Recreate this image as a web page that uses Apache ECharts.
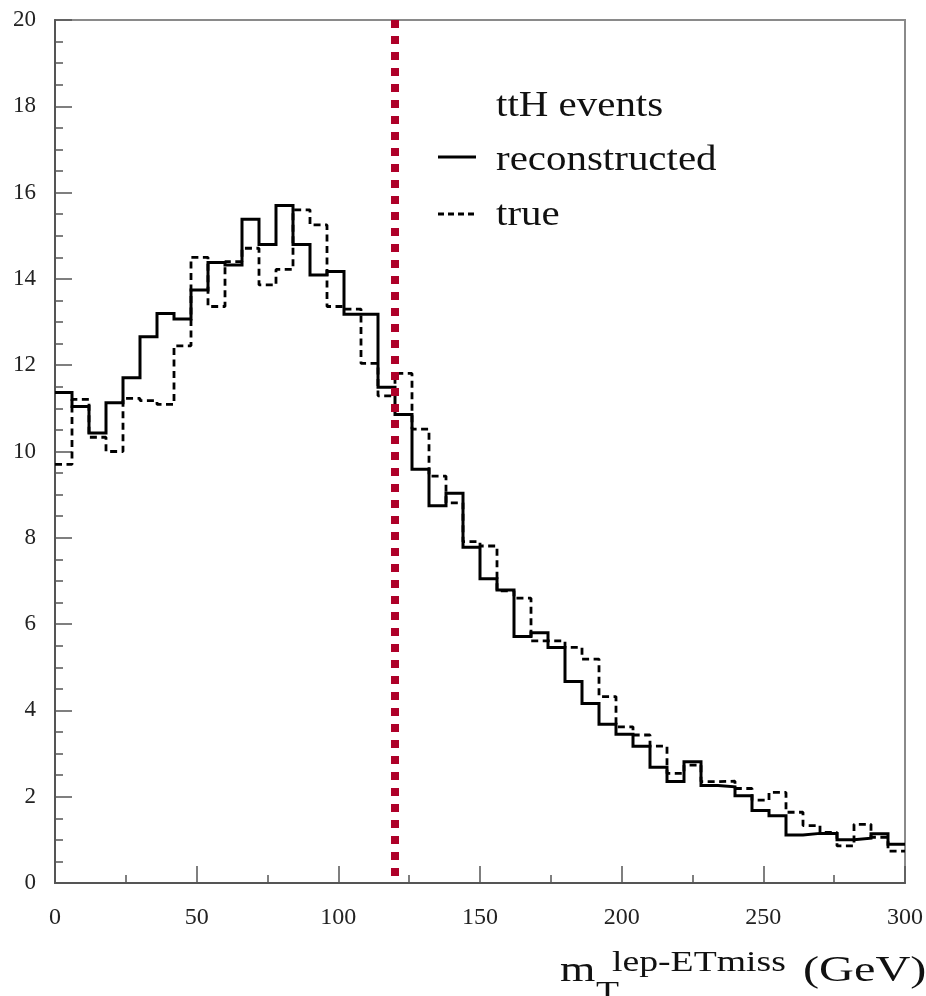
<!DOCTYPE html>
<html>
<head>
<meta charset="utf-8">
<script src="https://cdn.jsdelivr.net/npm/echarts@6/dist/echarts.min.js"></script>
<style>
  html, body { margin: 0; padding: 0; background: #fff; }
  #chart { width: 926px; height: 996px; }
</style>
</head>
<body>
<div id="chart"></div>
<script>
// ---- data ----
const binWidth = 6; // GeV, 50 bins from 0 to 300
const reconstructed = [11.37, 11.04, 10.43, 11.13, 11.71, 12.66, 13.20, 13.07, 13.74, 14.38,
  14.32, 15.38, 14.80, 15.70, 14.80, 14.09, 14.17, 13.18, 13.18, 11.49,
  10.86, 9.59, 8.74, 9.03, 7.78, 7.05, 6.79, 5.71, 5.80, 5.46,
  4.67, 4.16, 3.68, 3.45, 3.17, 2.68, 2.35, 2.81, 2.26, 2.23,
  2.02, 1.68, 1.56, 1.11, 1.15, 1.15, 1.00, 1.04, 1.14, 0.90];
const trueValues = [9.70, 11.21, 10.33, 10.00, 11.23, 11.18, 11.09, 12.45, 14.50, 13.36,
  14.40, 14.71, 13.86, 14.22, 15.60, 15.25, 13.36, 13.30, 12.04, 11.29,
  11.81, 10.52, 9.43, 8.81, 7.91, 7.81, 6.77, 6.60, 5.61, 5.61,
  5.46, 5.19, 4.32, 3.62, 3.43, 3.17, 2.54, 2.73, 2.35, 2.36,
  2.19, 1.92, 2.10, 1.64, 1.33, 1.17, 0.86, 1.36, 1.06, 0.74];
const cutValue = 120; // GeV
const xTicks = [0, 50, 100, 150, 200, 250, 300];
const yTicks = [0, 2, 4, 6, 8, 10, 12, 14, 16, 18, 20];
const legendTitle = 'ttH events';
const legendNames = ['reconstructed', 'true'];

// ---- helpers ----
function stepData(values) {
  const pts = values.map((v, i) => [i * binWidth, v]);
  pts.push([values.length * binWidth, values[values.length - 1]]);
  return pts;
}

const serif = '"Liberation Serif", "Times New Roman", serif';
const chart = echarts.init(document.getElementById('chart'), null, { renderer: 'canvas' });

const option = {
  backgroundColor: '#fff',
  animation: false,
  grid: {
    left: 55, right: 18, top: 20, bottom: 113,
    show: true, borderColor: '#8a8a8a', borderWidth: 2, backgroundColor: 'transparent'
  },
  xAxis: {
    type: 'value',
    min: xTicks[0], max: xTicks[xTicks.length - 1], interval: 50,
    axisLine: { show: true, onZero: false, lineStyle: { color: '#555', width: 2 } },
    axisTick: { show: true, inside: true, length: 17, lineStyle: { color: '#555', width: 1.5 } },
    minorTick: { show: true, splitNumber: 2, length: 8, lineStyle: { color: '#555', width: 1.5 } },
    splitLine: { show: false },
    axisLabel: { fontFamily: serif, fontSize: 24, color: '#222', margin: 23, showMaxLabel: true, showMinLabel: true }
  },
  yAxis: {
    type: 'value',
    min: yTicks[0], max: yTicks[yTicks.length - 1], interval: 2,
    axisLine: { show: true, onZero: false, lineStyle: { color: '#555', width: 2 } },
    axisTick: { show: true, inside: true, length: 17, lineStyle: { color: '#555', width: 1.5 } },
    minorTick: { show: true, splitNumber: 4, length: 8, lineStyle: { color: '#555', width: 1.5 } },
    splitLine: { show: false },
    axisLabel: { fontFamily: serif, fontSize: 23, color: '#222', margin: 19 }
  },
  series: [
    {
      name: legendNames[0], type: 'line', step: 'end', symbol: 'none',
      data: stepData(reconstructed),
      lineStyle: { color: '#000', width: 3, join: 'miter', cap: 'butt' },
      z: 3
    },
    {
      name: legendNames[1], type: 'line', step: 'end', symbol: 'none',
      data: stepData(trueValues),
      lineStyle: { color: '#000', width: 2.8, type: [7, 4.5], cap: 'butt' },
      z: 2
    },
    {
      name: 'cut', type: 'line', symbol: 'none',
      data: [[cutValue, 20], [cutValue, 0]],
      lineStyle: { color: '#ae0029', width: 8, type: [8, 8], cap: 'butt' },
      z: 5
    }
  ],
  graphic: [
    { type: 'text', x: 496, y: 107, scaleX: 1.17,
      style: { text: legendTitle, font: '35px ' + serif, fill: '#111', textAlign: 'left', textVerticalAlign: 'middle' } },
    { type: 'text', x: 496, y: 161, scaleX: 1.17,
      style: { text: legendNames[0], font: '35px ' + serif, fill: '#111', textAlign: 'left', textVerticalAlign: 'middle' } },
    { type: 'text', x: 496, y: 216, scaleX: 1.17,
      style: { text: legendNames[1], font: '35px ' + serif, fill: '#111', textAlign: 'left', textVerticalAlign: 'middle' } },
    { type: 'line', shape: { x1: 438, y1: 157, x2: 476, y2: 157 },
      style: { stroke: '#000', lineWidth: 3 } },
    { type: 'line', shape: { x1: 438, y1: 214, x2: 478, y2: 214 },
      style: { stroke: '#000', lineWidth: 2.8, lineDash: [6, 4] } },
    // axis title: m_T^{lep-ETmiss} (GeV)
    { type: 'text', x: 560, y: 972, scaleX: 1.3,
      style: { text: 'm', font: '35px ' + serif, fill: '#111', textAlign: 'left', textVerticalAlign: 'middle' } },
    { type: 'text', x: 596, y: 993, scaleX: 1.3,
      style: { text: 'T', font: '29px ' + serif, fill: '#111', textAlign: 'left', textVerticalAlign: 'middle' } },
    { type: 'text', x: 612, y: 963, scaleX: 1.3,
      style: { text: 'lep-ETmiss', font: '29px ' + serif, fill: '#111', textAlign: 'left', textVerticalAlign: 'middle' } },
    { type: 'text', x: 803, y: 972, scaleX: 1.38,
      style: { text: '(GeV)', font: '35px ' + serif, fill: '#111', textAlign: 'left', textVerticalAlign: 'middle' } }
  ]
};
chart.setOption(option);
</script>
</body>
</html>
